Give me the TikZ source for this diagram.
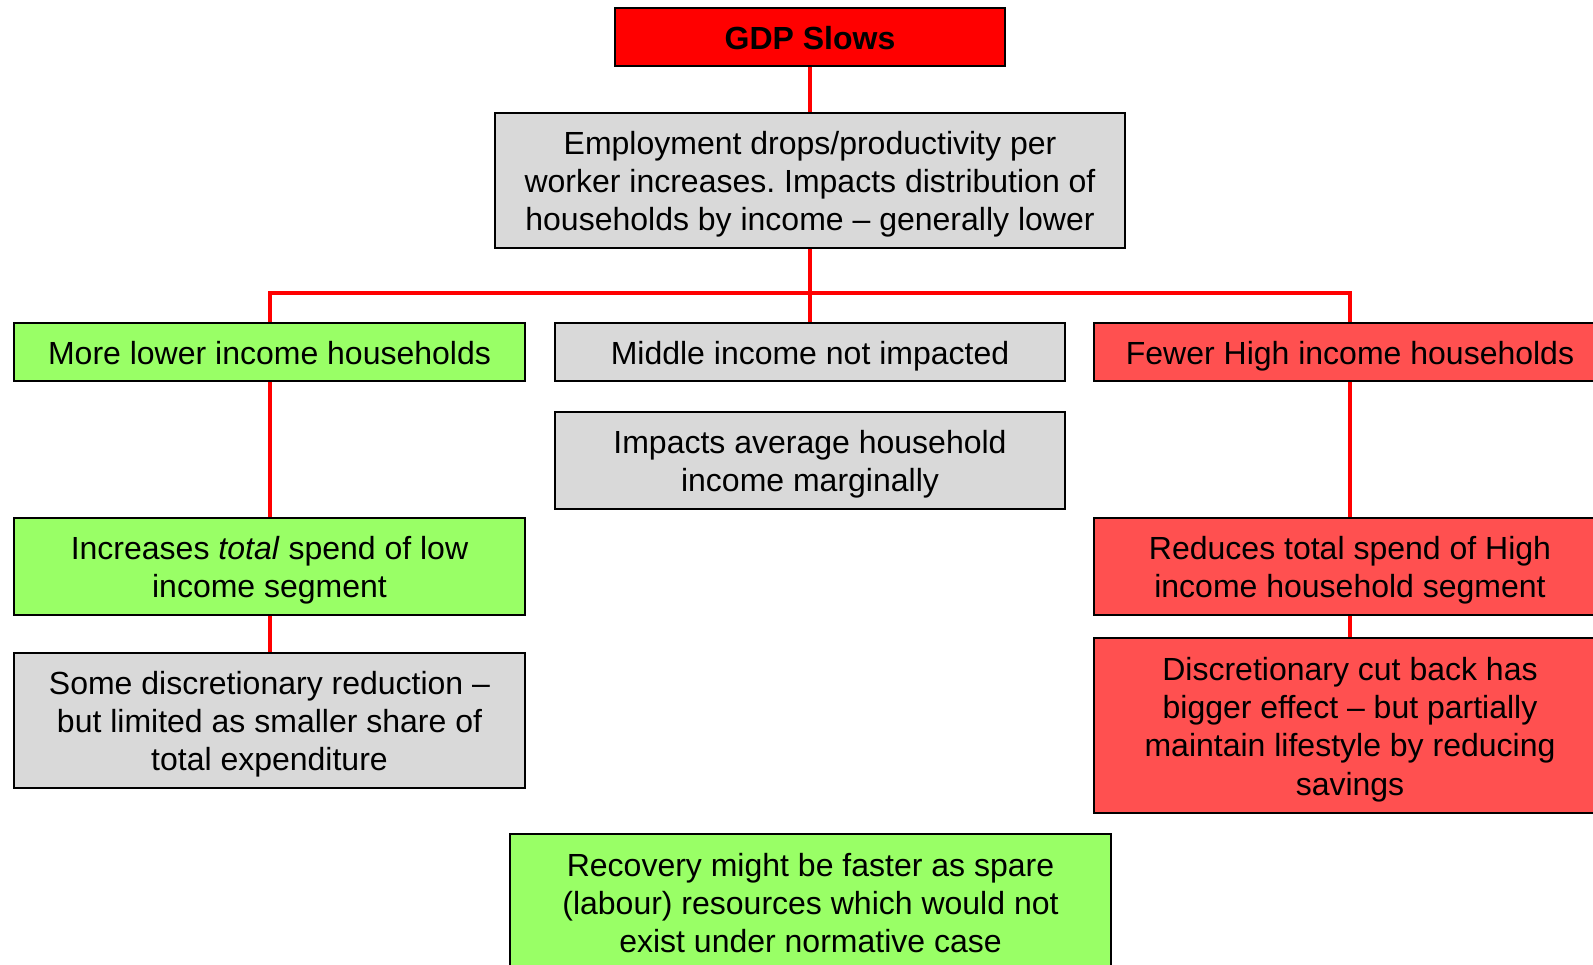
\documentclass[tikz,border=0pt]{standalone}
\usepackage{fontspec}
\setmainfont{Liberation Sans}
\frenchspacing
% strut placed in the first and last line, so every box centres its text the same way
\newcommand{\ls}{\rule[-4.9pt]{0pt}{35.7pt}}
\begin{document}
\definecolor{boxred}{HTML}{FF0000}
\definecolor{boxpink}{HTML}{FF5050}
\definecolor{boxgreen}{HTML}{99FF66}
\definecolor{boxgrey}{HTML}{D9D9D9}
\begin{tikzpicture}[x=1pt,y=-1pt,
  box/.style={draw=black,line width=1.8pt,rectangle,inner sep=0pt,align=center,
    font=\fontsize{32}{38.3}\selectfont,text=black},
  link/.style={draw=boxred,line width=4pt}]
\useasboundingbox (0,0) rectangle (1593,965);
\clip (0,0) rectangle (1593,965);

% top of the tree
\node[box,fill=boxred,minimum width=390pt,minimum height=58pt,font=\fontsize{32}{38.3}\selectfont\bfseries]
  (gdp) at (810,37) {\ls GDP Slows};
\node[box,fill=boxgrey,minimum width=630pt,minimum height=135pt]
  (emp) at (810,180.5) {\ls Employment drops/productivity per\\worker increases. Impacts distribution of\\\ls households by income -- generally lower};

% income segments
\node[box,fill=boxgreen,minimum width=511pt,minimum height=58pt]
  (low) at (269.5,352) {\ls More lower income households};
\node[box,fill=boxgrey,minimum width=510pt,minimum height=58pt]
  (mid) at (810,352) {\ls Middle income not impacted};
\node[box,fill=boxpink,minimum width=512pt,minimum height=58pt]
  (high) at (1350,352) {\ls Fewer High income households};

\node[box,fill=boxgrey,minimum width=510pt,minimum height=97pt]
  (midb) at (810,460.5) {\ls Impacts average household\\\ls income marginally};

\node[box,fill=boxgreen,minimum width=511pt,minimum height=97pt]
  (lowb) at (269.5,566.5) {\ls Increases \textit{total} spend of low\\\ls income segment};
\node[box,fill=boxgrey,minimum width=511pt,minimum height=135pt]
  (lowc) at (269.5,720.5) {\ls Some discretionary reduction --\\but limited as smaller share of\\\ls total expenditure};

\node[box,fill=boxpink,minimum width=512pt,minimum height=97pt]
  (highb) at (1350,566.5) {\ls Reduces total spend of High\\\ls income household segment};
\node[box,fill=boxpink,minimum width=512pt,minimum height=175pt]
  (highc) at (1350,725.5) {\ls Discretionary cut back has\\bigger effect -- but partially\\maintain lifestyle by reducing\\\ls savings};

\node[box,fill=boxgreen,minimum width=601pt,minimum height=135pt]
  (rec) at (810.5,901.5) {\ls Recovery might be faster as spare\\(labour) resources which would not\\\ls exist under normative case};

% connectors
\coordinate (bar) at (810,293);
\draw[link] (gdp.south) -- (emp.north);
\draw[link] (emp.south) -- (mid.north);
\draw[link] (low.north) |- (bar) -| (high.north);
\draw[link] (low.south) -- (lowb.north);
\draw[link] (lowb.south) -- (lowc.north);
\draw[link] (high.south) -- (highb.north);
\draw[link] (highb.south) -- (highc.north);
\end{tikzpicture}
\end{document}
